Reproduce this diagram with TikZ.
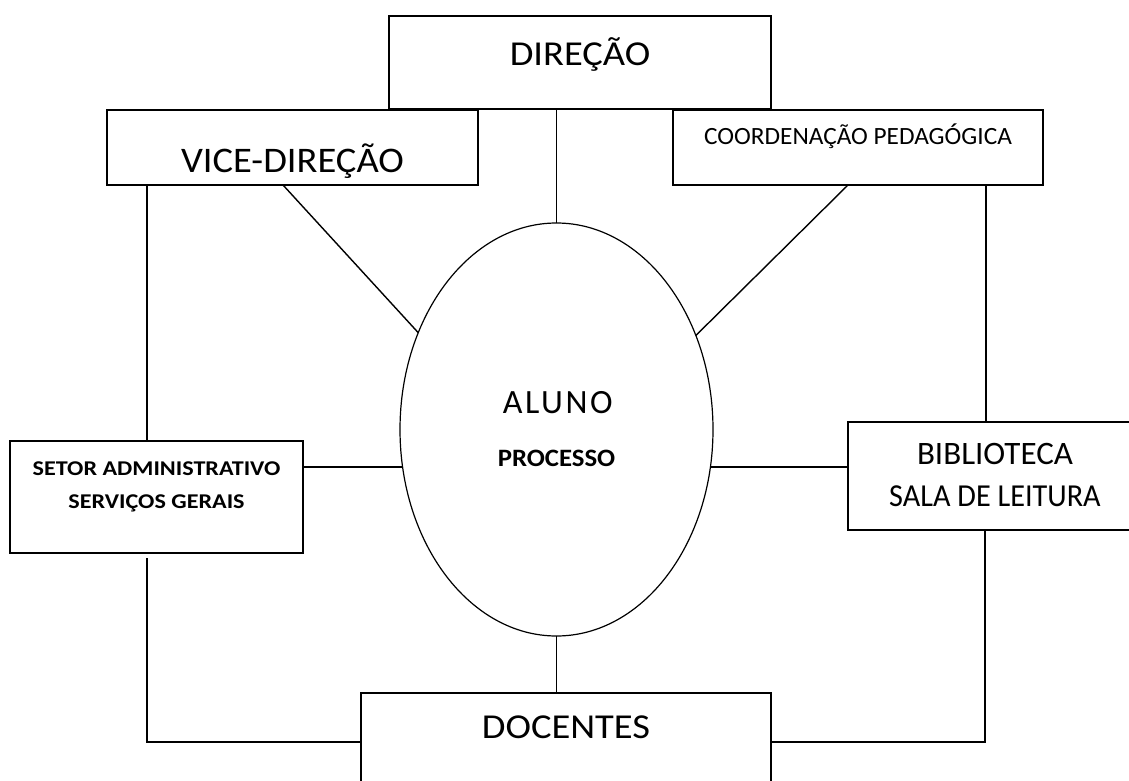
\documentclass[tikz,border=0pt]{standalone}
\usepackage{fontspec}
\setmainfont{Carlito}
\usetikzlibrary{shapes.geometric,calc}
\tikzset{
  boxnode/.style={draw=black, line width=1.6pt, rectangle, inner sep=0pt, outer sep=0pt, fill=white},
  ellnode/.style={draw=black, line width=1.2pt, ellipse, inner sep=0pt, outer sep=0pt, minimum width=313pt, minimum height=413pt},
  conn/.style={draw=black, line width=1.4pt},
  txt/.style={anchor=base, inner sep=0pt, text=black},
}
\newcommand{\fsz}[2]{\fontsize{#1}{#1}\selectfont\addfontfeatures{FakeStretch=#2}}
\begin{document}
\begin{tikzpicture}[x=1pt,y=-1pt]
\useasboundingbox (0,0) rectangle (1129,781);
\clip (0,0) rectangle (1129,781);
\fill[white] (0,0) rectangle (1129,781);
% boxes
\node[boxnode, minimum width=382pt, minimum height=93pt] (dir) at (580,62.5) {};
\node[boxnode, minimum width=371pt, minimum height=75pt] (vice) at (292.5,147.5) {};
\node[boxnode, minimum width=370pt, minimum height=75pt] (coord) at (858,147.5) {};
\node[boxnode, minimum width=293pt, minimum height=112pt] (setor) at (156.5,497) {};
\node[boxnode, minimum width=294pt, minimum height=108pt] (biblio) at (995,476) {};
\node[boxnode, minimum width=410pt, minimum height=120pt] (doc) at (566,753) {};
\node[ellnode] (ell) at (556.5,429.5) {};
% points on the ellipse for the horizontal connectors
\coordinate (eL) at ($(ell.center)+(-154,37.5)$);
\coordinate (eR) at ($(ell.center)+(154,37.5)$);
% texts
\node[txt] (tdir) at (580,66) {\fsz{35}{1.1}DIREÇÃO};
\node[txt] (tvice) at (292.5,172.7) {\fsz{36}{1.07}VICE-DIREÇÃO};
\node[txt] (tcoord) at (858,144) {\fsz{24.8}{1.02}COORDENAÇÃO PEDAGÓGICA};
\node[txt] (tsetor1) at (156.5,475) {\fsz{21}{1.15}\bfseries SETOR ADMINISTRATIVO};
\node[txt] (tsetor2) at (156.5,508) {\fsz{21}{1.15}\bfseries SERVIÇOS GERAIS};
\node[txt] (tbib1) at (995,464) {\fsz{32.7}{1.01}BIBLIOTECA};
\node[txt] (tbib2) at (995,506) {\fsz{32}{0.945}SALA DE LEITURA};
\node[txt] (tdoc) at (566,738) {\fsz{35}{1.1}DOCENTES};
\node[txt] (talu) at (556.5,413.3) {\fontsize{34}{34}\selectfont\addfontfeatures{LetterSpace=7.5}\hspace{2.5pt}ALUNO};
\node[txt] (tproc) at (556.5,466.7) {\fsz{25}{1.07}\bfseries PROCESSO};
% connectors
\draw[conn] (ell.north |- dir.south) -- (ell.north);
\draw[conn] ([xshift=176pt]vice.south west) -- (ell.145.1);
\draw[conn] ([xshift=175pt]coord.south west) -- (ell.34.9);
\draw[conn] ([xshift=40pt]vice.south west) -- ([xshift=40pt]vice.south west |- setor.north);
\draw[conn] ([yshift=30pt]setor.east) -- (eL);
\draw[conn] (biblio.west |- eR) -- (eR);
\draw[conn] ([xshift=313pt]coord.south west) -- ([xshift=313pt]coord.south west |- biblio.north);
\draw[conn] ([xshift=137pt]biblio.south west) |- ([yshift=11pt]doc.east);
\draw[conn] ([xshift=137pt,yshift=-5pt]setor.south west) |- ([yshift=11pt]doc.west);
\draw[conn] (ell.south) -- (ell.south |- doc.north);
\end{tikzpicture}
\end{document}
